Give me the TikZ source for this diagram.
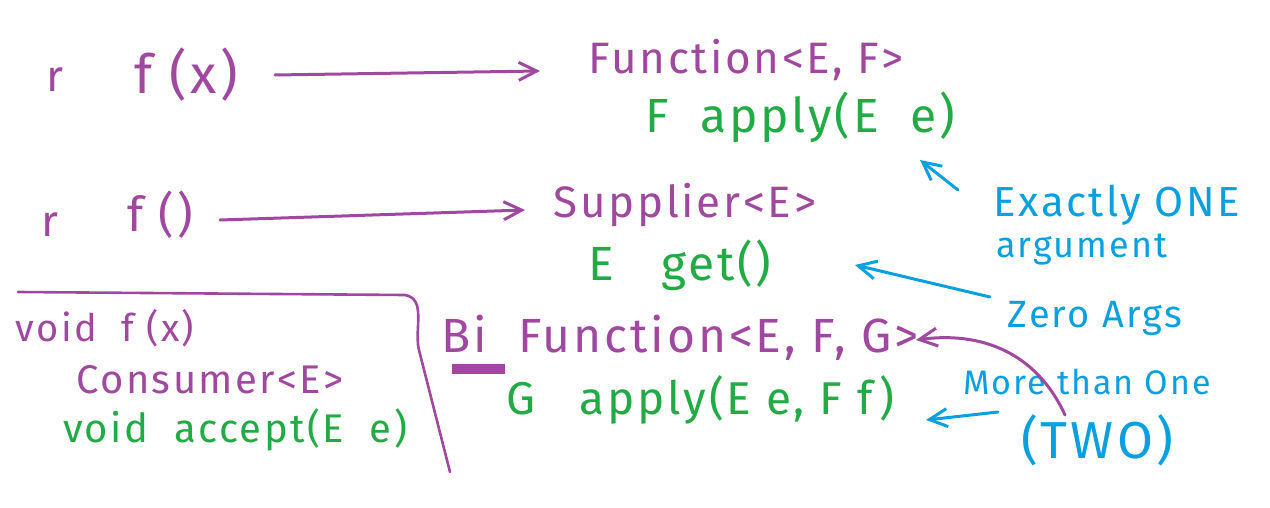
\documentclass[tikz,border=0pt]{standalone}
\usepackage{fontspec}
\setmainfont{Fira Sans}[LetterSpace=6]
\usetikzlibrary{arrows.meta,calc}
\definecolor{hpurple}{RGB}{160,72,160}
\definecolor{hgreen}{RGB}{34,170,68}
\definecolor{hblue}{RGB}{10,160,224}
\tikzset{
  pur/.style={text=hpurple, inner sep=0pt},
  grn/.style={text=hgreen, inner sep=0pt},
  blu/.style={text=hblue, inner sep=0pt},
  fs/.style={font=\fontsize{#1}{#1}\selectfont},
  parrow/.style={draw=hpurple, line width=1.5pt, line cap=round, -{Straight Barb[length=9pt,width=9pt]}},
  barrow/.style={draw=hblue, line width=1.5pt, line cap=round, -{Straight Barb[length=9pt,width=9pt]}},
}
\begin{document}
\begin{tikzpicture}[x=0.5pt,y=-0.5pt]
\useasboundingbox (0,0) rectangle (1270,508);
% row 1
\node[pur,fs=22] (r1) at (55,80) {r};
\node[pur,fs=27] (fx) at (186,75) {f (x)};
\node[pur,fs=22] (func) at (746,60) {Function<E, F>};
\node[grn,fs=24] (fapply) at (800,117) {F \ apply(E \ e)};
\coordinate (a1s) at (275,75); \coordinate (a1e) at (540,71);
\draw[parrow] (a1s) -- (a1e);
% row 2
\node[pur,fs=22] (r2) at (50,225) {r};
\node[pur,fs=24] (f0) at (160,215) {f ()};
\node[pur,fs=22] (supp) at (685,205) {Supplier<E>};
\node[grn,fs=24] (eget) at (680,265) {E \ \ get()};
\coordinate (a2s) at (220,220); \coordinate (a2e) at (525,210);
\draw[parrow] (a2s) -- (a2e);
% consumer box
\coordinate (bx1) at (18,292);
\coordinate (bx2) at (405,295);
\coordinate (bx3) at (450,472);
\draw[hpurple, line width=1.3pt, line cap=round] (bx1) -- (bx2) to[out=-10,in=100] ($(bx2)!0.3!(bx3)$) -- (bx3);
\node[pur,fs=19] (voidf) at (105,328) {void \ f (x)};
\node[pur,fs=20] (cons) at (210,380) {Consumer<E>};
\node[grn,fs=20] (acc) at (235,430) {void \ accept(E \ e)};
% bifunction
\node[pur,fs=24] (bif) at (680,338) {Bi \ Function<E, F, G>};
\draw[hpurple, line width=5pt] (452,369) -- (505,369);
\node[grn,fs=23] (gapply) at (700,400) {G \ \ apply(E e, F f)};
% annotations
\node[blu,fs=21] (one) at (1117,205) {Exactly ONE};
\node[blu,fs=18] (arg) at (1082,250) {argument};
\node[blu,fs=19] (zero) at (1095,318) {Zero Args};
\node[blu,fs=17] (more) at (1087,382) {More than One};
\node[blu,fs=26] (two) at (1097,440) {(TWO)};
\coordinate (b1s) at (958,190); \coordinate (b1e) at (920,160);
\draw[barrow] (b1s) -- (b1e);
\coordinate (b2s) at (990,297); \coordinate (b2e) at (855,265);
\draw[barrow] (b2s) -- (b2e);
\coordinate (b3s) at (998,412); \coordinate (b3e) at (926,420);
\draw[barrow] (b3s) -- (b3e);
\coordinate (p1s) at (1065,415); \coordinate (p1e) at (916,340);
\draw[parrow] (p1s) .. controls (1040,360) and (990,330) .. (p1e);
\end{tikzpicture}
\end{document}
